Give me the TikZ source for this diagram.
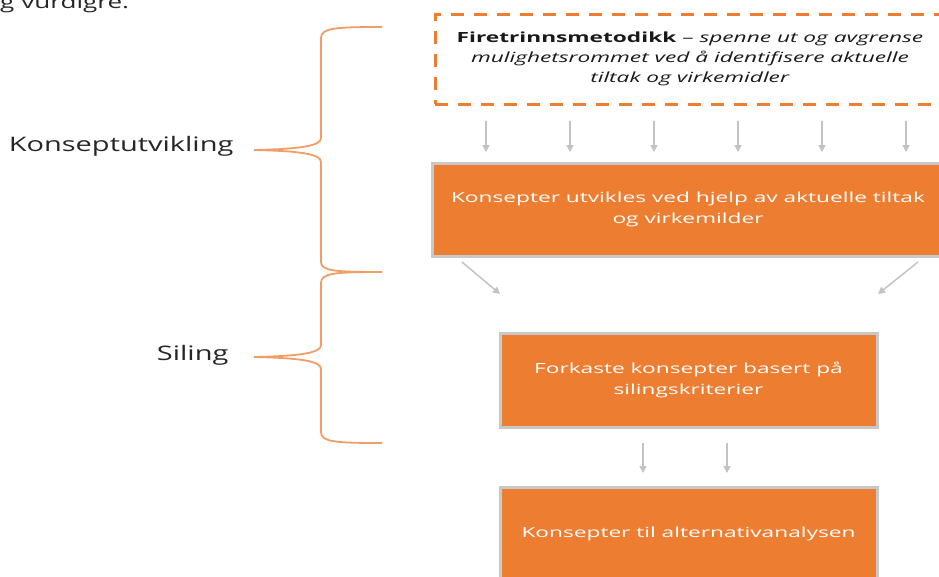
\documentclass[tikz,border=0pt]{standalone}
\usepackage{fontspec}
\setmainfont{Open Sans}
\newfontfamily\etikettfont[FakeStretch=1.45]{Open Sans}
\newfontfamily\boksfont[FakeStretch=1.62]{Open Sans}
\usetikzlibrary{arrows.meta, positioning, calc}
\definecolor{oransje}{RGB}{237,125,49}
\definecolor{pilgraa}{RGB}{195,195,195}
\definecolor{kantgraa}{RGB}{200,200,200}

\begin{document}
\begin{tikzpicture}[x=1pt, y=-1pt, font=\boksfont\fontsize{14}{21}\selectfont, >={Triangle[length=7pt, width=7pt]},
    boks/.style={draw=kantgraa, line width=3pt, fill=oransje, text=white, align=center,
                 minimum width=377pt, minimum height=94pt, inner sep=0pt},
    pil/.style={->, draw=pilgraa, line width=1.5pt},
    klamme/.style={draw=oransje!75, line width=1.8pt},
    etikett/.style={anchor=east, font=\etikettfont\fontsize{20}{24}\selectfont, text=black!85}]
    \clip (0,0) rectangle (939,576);
    \node[anchor=base west, font=\etikettfont\fontsize{18}{22}\selectfont, text=black!85, inner sep=0pt] (rest) at (0,8) {g vurdigre.};

    \node[draw=oransje, line width=3pt, dash pattern=on 13pt off 10pt, align=center,
          minimum width=510pt, minimum height=90pt, inner sep=0pt, text=black!90,
          font=\boksfont\fontsize{14}{20}\selectfont] (firetrinn) at (690,59) {%
        \textbf{Firetrinnsmetodikk} – \textit{spenne ut og avgrense}\\
        \textit{mulighetsrommet ved å identifisere aktuelle}\\
        \textit{tiltak og virkemidler}};
    \node[boks, minimum width=512pt, minimum height=93pt] (konsepter) at (688,209.5)
        {Konsepter utvikles ved hjelp av aktuelle tiltak\\og virkemilder};
    \node[boks] (forkaste) at (688.5,380) {Forkaste konsepter basert på\\silingskriterier};
    \node[boks] (alternativ) at (688.5,534) {Konsepter til alternativanalysen};

    \foreach \x in {486,570,654,738,822,906}
        \draw[pil, shorten <=15.5pt, shorten >=9.5pt] (\x,0 |- firetrinn.south) -- (\x,0 |- konsepter.north);
    \draw[pil] ($(konsepter.south west)+(31.5,4.5)$) -- ($(forkaste.north west)+(1.5,-37.5)$);
    \draw[pil] ($(konsepter.south east)+(-27.5,4.5)$) -- ($(forkaste.north east)+(-0.5,-37.5)$);
    \foreach \x in {643,727}
        \draw[pil, shorten <=14.5pt, shorten >=12.5pt] (\x,0 |- forkaste.south) -- (\x,0 |- alternativ.north);

    % klammer
    \coordinate (k1) at (382,27);
    \coordinate (k2) at (382,272);
    \coordinate (k3) at (382,443);
    \coordinate (spiss1) at (254,150);
    \coordinate (spiss2) at (254,357);
    \draw[klamme] (k1) .. controls (335,27) and (321,28) .. (321,38) -- (321,138)
        .. controls (321,146) and (300,149) .. (spiss1)
        .. controls (300,151) and (321,154) .. (321,162) -- (321,262)
        .. controls (321,271) and (335,272) .. (k2);
    \draw[klamme] (k2) .. controls (335,272) and (321,273) .. (321,283) -- (321,345)
        .. controls (321,353) and (300,356) .. (spiss2)
        .. controls (300,358) and (321,361) .. (321,369) -- (321,432)
        .. controls (321,442) and (335,443) .. (k3);

    \node[etikett] (utvikling) at ($(spiss1)+(-17,-4)$) {Konseptutvikling};
    \node[etikett] (siling) at ($(spiss2)+(-22,-2)$) {Siling};
\end{tikzpicture}
\end{document}
